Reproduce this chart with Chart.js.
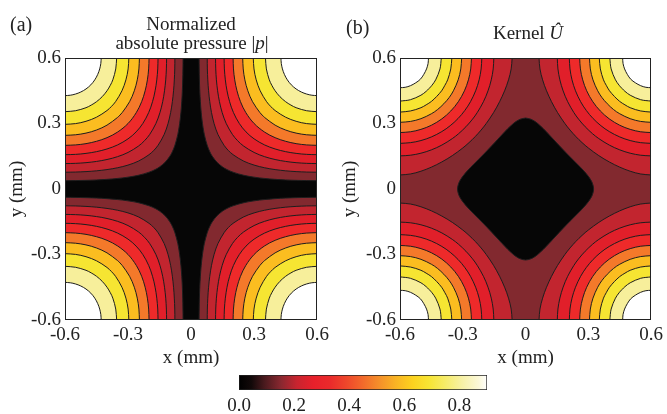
<!DOCTYPE html>
<html><head><meta charset="utf-8">
<script src="https://cdn.jsdelivr.net/npm/chart.js@4.4.1/dist/chart.umd.min.js"></script>
<style>
html,body{margin:0;padding:0;background:#fff;}
#wrap{position:relative;width:667px;height:414px;overflow:hidden;background:#fff;font-family:"Liberation Serif","DejaVu Serif",serif;color:#222;}
#wrap canvas{position:absolute;}
.t{position:absolute;font-size:19px;line-height:20px;white-space:nowrap;text-align:center;}
</style></head><body>
<div id="wrap">
<canvas id="ca" width="333" height="414" style="left:0;top:0;width:333px;height:414px"></canvas>
<canvas id="cb" width="334" height="414" style="left:333px;top:0;width:334px;height:414px"></canvas>
<canvas id="cc" width="320" height="54" style="left:200px;top:360px;width:320px;height:54px"></canvas>
<div class="t" style="left:10px;top:14px;font-size:20px;">(a)</div>
<div class="t" style="left:91px;top:14px;width:200px;">Normalized</div>
<div class="t" style="left:92px;top:33px;width:200px;">absolute pressure |<i>p</i>|</div>
<div class="t" style="left:346px;top:17px;font-size:20px;">(b)</div>
<div class="t" style="left:428px;top:23px;width:200px;">Kernel <i>Û</i></div>
</div>
<script>
// ---------- data ----------
const axisTicks = [-0.6, -0.3, 0, 0.3, 0.6];
const axisTickLabels = ['-0.6', '-0.3', '0', '0.3', '0.6'];
const levelsA = [0.1, 0.2, 0.3, 0.4, 0.5, 0.6, 0.7, 0.8, 0.9];
const levelsB = [0.1, 0.2, 0.3, 0.4, 0.5, 0.6, 0.7, 0.8, 0.9];
const bandColors = ['#060606', '#82292f', '#c2252f', '#e11f2a', '#ee2a2a', '#f4792a', '#fbbd20', '#f6e532', '#f7ef9b', '#ffffff'];
// contour half-curves in the upper-right quadrant (edge -> diagonal), x,y in mm
const contoursA = [
  [[0.038,0.6],[0.0386,0.55],[0.0396,0.5],[0.0414,0.45],[0.0442,0.4],[0.0483,0.35],[0.0542,0.3],[0.063,0.25],[0.0769,0.2],[0.0895,0.17],[0.101,0.15],[0.123,0.123]],
  [[0.0769,0.6],[0.0776,0.55],[0.0797,0.5],[0.0833,0.45],[0.089,0.4],[0.0973,0.35],[0.1095,0.3],[0.1279,0.25],[0.1572,0.2],[0.177,0.177]],
  [[0.1164,0.6],[0.1175,0.55],[0.1206,0.5],[0.1263,0.45],[0.1351,0.4],[0.1481,0.35],[0.1674,0.3],[0.1968,0.25],[0.2214,0.2214]],
  [[0.1572,0.6],[0.1586,0.55],[0.1631,0.5],[0.1711,0.45],[0.1834,0.4],[0.2018,0.35],[0.2297,0.3],[0.2615,0.2615]],
  [[0.2,0.6],[0.2019,0.55],[0.2078,0.5],[0.2185,0.45],[0.2351,0.4],[0.2606,0.35],[0.3,0.3]],
  [[0.2458,0.6],[0.2483,0.55],[0.256,0.5],[0.2701,0.45],[0.2925,0.4],[0.3277,0.35],[0.3385,0.3385]],
  [[0.2962,0.6],[0.2995,0.55],[0.3101,0.5],[0.3289,0.45],[0.3594,0.4],[0.3786,0.3786]],
  [[0.3542,0.6],[0.3585,0.55],[0.3724,0.5],[0.3844,0.475],[0.3999,0.45],[0.4229,0.4229]],
  [[0.4277,0.6],[0.4295,0.575],[0.4349,0.55],[0.4442,0.525],[0.4582,0.5],[0.4771,0.4771]]
];
const contoursB = [
  [[0,0.3251],[0.0248,0.32],[0.0441,0.31],[0.0582,0.3],[0.0865,0.275],[0.1113,0.25],[0.1354,0.225],[0.1596,0.2],[0.1797,0.1797]],
  [[0.0642,0.6],[0.0688,0.55],[0.0814,0.5],[0.1001,0.45],[0.124,0.4],[0.1529,0.35],[0.1879,0.3],[0.2125,0.27],[0.2403,0.2403]],
  [[0.1516,0.6],[0.1547,0.55],[0.1639,0.5],[0.1793,0.45],[0.2012,0.4],[0.2309,0.35],[0.2533,0.32],[0.285,0.285]],
  [[0.2091,0.6],[0.2123,0.55],[0.2219,0.5],[0.2385,0.45],[0.2631,0.4],[0.29,0.36],[0.3227,0.3227]],
  [[0.2585,0.6],[0.2621,0.55],[0.2731,0.5],[0.292,0.45],[0.3212,0.4],[0.3573,0.3573]],
  [[0.3054,0.6],[0.3095,0.55],[0.3221,0.5],[0.3447,0.45],[0.3642,0.42],[0.3905,0.3905]],
  [[0.3523,0.6],[0.3574,0.55],[0.3723,0.5],[0.3855,0.475],[0.401,0.45],[0.4243,0.4243]],
  [[0.4026,0.6],[0.409,0.55],[0.4296,0.5],[0.4473,0.475],[0.4607,0.4607]],
  [[0.464,0.6],[0.4658,0.575],[0.4732,0.55],[0.4863,0.525],[0.5027,0.5027]]
];
const cbarMax = 0.9;
const cbarTicks = [0, 0.2, 0.4, 0.6, 0.8];
const cbarTickLabels = ['0.0', '0.2', '0.4', '0.6', '0.8'];
const cbarStops = [0, 0.045, 0.093, 0.153, 0.21, 0.27, 0.33, 0.39, 0.45, 0.51, 0.57, 0.63, 0.69, 0.75, 0.81, 0.87, 0.9];
const cbarColors = ['#000000', '#120909', '#4a1a1e', '#8a2830', '#c8242f', '#e8202b', '#ea2a2b', '#ee472b', '#f26a2b', '#f5902a', '#f9b424', '#fcd21f', '#f7e534', '#f6ec6a', '#f7f1a6', '#fbf8d8', '#ffffff'];

// ---------- helpers ----------
Chart.defaults.font.family = '"Liberation Serif","DejaVu Serif",serif';
Chart.defaults.color = '#222';
const tickFont = {size: 19};
const quads = [[1, 1], [-1, 1], [1, -1], [-1, -1]];

function fullCurve(half) {
  const out = half.map(p => p.slice());
  for (let j = half.length - 2; j >= 0; j--) out.push([half[j][1], half[j][0]]);
  return out;
}
function lineDs(pts, color, fill, order, border) {
  return {
    data: pts.map(p => ({x: p[0], y: p[1]})),
    showLine: true, pointRadius: 0, pointHoverRadius: 0,
    borderColor: border ? '#1e1e1e' : 'rgba(0,0,0,0)', borderWidth: border ? 1 : 0,
    backgroundColor: color, fill: fill, tension: 0.35, order: order
  };
}
// closed loop around the origin built from the upper-right quadrant curve
function closedLoop(half) {
  const q = fullCurve(half);                       // (0,y0) -> (y0,0)
  const loop = [];
  q.forEach(([x, y]) => loop.push([x, y]));                                  // upper right
  q.slice().reverse().slice(1).forEach(([x, y]) => loop.push([x, -y]));      // lower right
  q.slice(1).forEach(([x, y]) => loop.push([-x, -y]));                       // lower left
  q.slice().reverse().slice(1).forEach(([x, y]) => loop.push([-x, y]));      // upper left
  return loop;
}
function panelDatasets(contours, levels, panel) {
  const ds = [];
  const bg = panel === 'a' ? bandColors[0] : bandColors[1];
  ds.push(lineDs([[-0.6, 0.6], [0.6, 0.6]], bg, 'start', 1000, false));
  contours.forEach((half, i) => {
    if (panel === 'b' && i === 0) {
      ds.push(lineDs(closedLoop(half), bandColors[0], 'shape', 100 - i, true));
      return;
    }
    const curve = fullCurve(half);
    quads.forEach(([sx, sy]) => {
      const pts = curve.map(([x, y]) => [sx * x, sy * y]);
      ds.push(lineDs(pts, bandColors[i + 1], sy > 0 ? 'end' : 'start', 100 - i, true));
    });
  });
  return ds;
}
const framePlugin = {
  id: 'frame',
  afterDatasetsDraw(chart) {
    const {ctx, chartArea: a} = chart;
    ctx.save();
    ctx.strokeStyle = '#222'; ctx.lineWidth = 1;
    ctx.strokeRect(Math.round(a.left) + 0.5, Math.round(a.top) + 0.5, Math.round(a.right - a.left) - 1, Math.round(a.bottom - a.top) - 1);
    ctx.restore();
  }
};
function axisCfg(title, isX, fitSize) {
  return {
    type: 'linear', min: -0.6, max: 0.6,
    afterBuildTicks: s => { s.ticks = axisTicks.map(v => ({value: v})); },
    ticks: {callback: (v, i) => axisTickLabels[i], font: tickFont, color: '#222', padding: 4, maxRotation: 0, autoSkip: false},
    grid: {display: false, drawTicks: false},
    border: {display: false},
    title: {display: true, text: title, font: {size: 19}, color: '#222', padding: {top: 0, bottom: 2}},
    afterFit: s => { if (isX) s.height = fitSize; else s.width = fitSize; }
  };
}
function panelChart(id, contours, levels, panel, pad, yw) {
  return new Chart(document.getElementById(id), {
    type: 'scatter',
    data: {datasets: panelDatasets(contours, levels, panel)},
    options: {
      responsive: false, animation: false, devicePixelRatio: 1, events: [],
      layout: {padding: pad},
      plugins: {legend: {display: false}, tooltip: {enabled: false}},
      scales: {x: axisCfg('x (mm)', true, 51), y: axisCfg('y (mm)', false, yw)}
    },
    plugins: [framePlugin]
  });
}
panelChart('ca', contoursA, levelsA, 'a', {left: 6, right: 15, top: 58, bottom: 43}, 59);
panelChart('cb', contoursB, levelsB, 'b', {left: 6, right: 14, top: 58, bottom: 43}, 61);

// colorbar
new Chart(document.getElementById('cc'), {
  type: 'bar',
  data: {labels: ['cb'], datasets: [{
    data: [[0, cbarMax]],
    barPercentage: 1, categoryPercentage: 1,
    borderColor: '#222', borderWidth: 1, borderSkipped: false,
    backgroundColor: (ctx) => {
      const ch = ctx.chart;
      if (!ch.chartArea) return '#888';
      const xs = ch.scales.x;
      const g = ch.ctx.createLinearGradient(xs.getPixelForValue(0), 0, xs.getPixelForValue(cbarMax), 0);
      cbarStops.forEach((v, i) => g.addColorStop(v / cbarMax, cbarColors[i]));
      return g;
    }
  }]},
  options: {
    indexAxis: 'y', responsive: false, animation: false, devicePixelRatio: 1, events: [],
    layout: {padding: {left: 39, right: 33, top: 15, bottom: 0}},
    plugins: {legend: {display: false}, tooltip: {enabled: false}},
    scales: {
      x: {type: 'linear', min: 0, max: cbarMax,
        afterBuildTicks: s => { s.ticks = cbarTicks.map(v => ({value: v})); },
        ticks: {callback: (v, i) => cbarTickLabels[i], font: tickFont, color: '#222', padding: 5, maxRotation: 0, autoSkip: false},
        grid: {display: false, drawTicks: false}, border: {display: false},
        afterFit: s => { s.height = 24; }},
      y: {display: false}
    }
  }
});
</script>
</body></html>
